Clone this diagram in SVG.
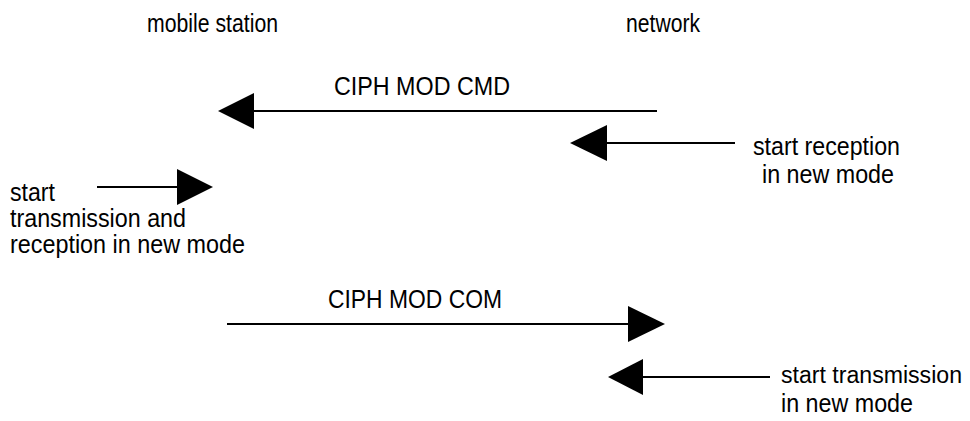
<svg xmlns="http://www.w3.org/2000/svg" width="970" height="421" viewBox="0 0 970 421">
<style>
text{font-family:"Liberation Sans",Arial,sans-serif;font-size:25px;fill:#000}
.ln{stroke:#000;stroke-width:2;fill:none}
.hd{fill:#000}
</style>
<rect width="970" height="421" fill="#fff"/>
<g id="mobile-station"><text x="147" y="32" textLength="131" lengthAdjust="spacingAndGlyphs">mobile station</text></g>
<g id="network"><text x="626" y="32" textLength="74" lengthAdjust="spacingAndGlyphs">network</text></g>
<g id="label-ms-start">
<text x="10" y="201" textLength="45" lengthAdjust="spacingAndGlyphs">start</text>
<text x="10" y="227" textLength="176" lengthAdjust="spacingAndGlyphs">transmission and</text>
<text x="10" y="253" textLength="235" lengthAdjust="spacingAndGlyphs">reception in new mode</text>
</g>
<g id="label-nw-reception">
<text x="753" y="155" textLength="147" lengthAdjust="spacingAndGlyphs">start reception</text>
<text x="762" y="183" textLength="132" lengthAdjust="spacingAndGlyphs">in new mode</text>
</g>
<g id="label-nw-transmission">
<text x="781" y="383" style="font-size:23.5px" textLength="181" lengthAdjust="spacingAndGlyphs">start transmission</text>
<text x="781" y="412" textLength="132" lengthAdjust="spacingAndGlyphs">in new mode</text>
</g>
<g id="connectors">
<g id="ciph-mod-cmd"><line class="ln" x1="657" y1="111" x2="253" y2="111"/><polygon class="hd" points="218,111 254,93 254,129"/><text x="334" y="95" textLength="176" lengthAdjust="spacingAndGlyphs">CIPH MOD CMD</text></g>
<g id="nw-reception-arrow"><line class="ln" x1="735" y1="143" x2="606" y2="143"/><polygon class="hd" points="570,143 607,125 607,161"/></g>
<g id="ms-start-arrow"><line class="ln" x1="97" y1="187" x2="178" y2="187"/><polygon class="hd" points="213,187 177,169 177,205"/></g>
<g id="ciph-mod-com"><line class="ln" x1="227" y1="324" x2="629" y2="324"/><polygon class="hd" points="665,324 628,306 628,342"/><text x="328" y="308" textLength="174" lengthAdjust="spacingAndGlyphs">CIPH MOD COM</text></g>
<g id="nw-transmission-arrow"><line class="ln" x1="770" y1="377" x2="642" y2="377"/><polygon class="hd" points="608,377 643,359 643,395"/></g>
</g>
</svg>
